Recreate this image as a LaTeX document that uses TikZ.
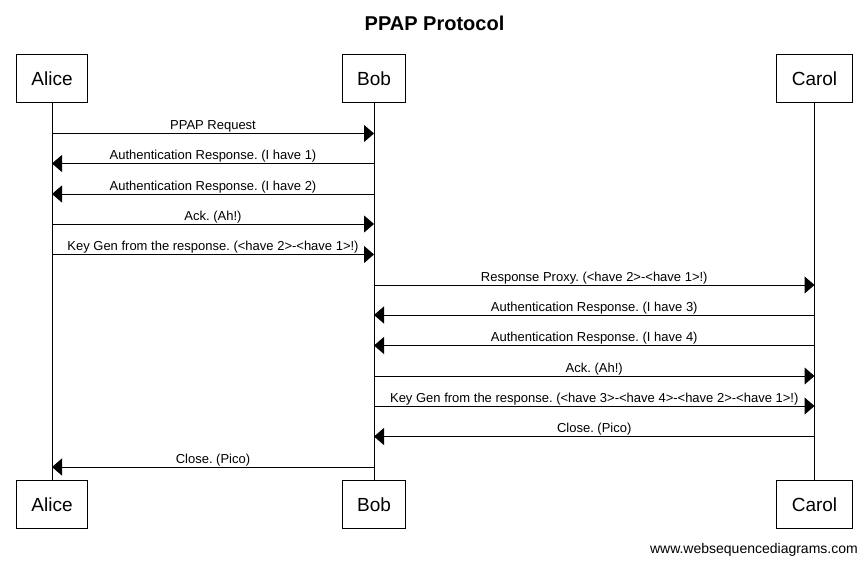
\documentclass[tikz,border=0pt]{standalone}
\usepackage{fontspec}
\setmainfont{Liberation Sans}
\usetikzlibrary{arrows.meta, positioning, calc}
\frenchspacing

\begin{document}
\begin{tikzpicture}[
    x=1pt, y=-1pt,
    >={Triangle[length=10pt, width=17pt]},
    actor/.style={rectangle, draw=black, line width=1pt, minimum height=48pt,
        inner xsep=15pt, font=\fontsize{19}{22}\selectfont},
    lifeline/.style={line width=1pt},
    msg/.style={->, line width=1pt},
    msglabel/.style={anchor=base, yshift=4pt, inner sep=0pt,
        font=\fontsize{13}{15}\selectfont},
]
\useasboundingbox (0,0) rectangle (867,563);

% === TITLE ===
\node[font=\fontsize{20}{24}\selectfont\bfseries] (title) at (434.5,23) {PPAP Protocol};

% === ACTORS (top and bottom) ===
\node[actor] (alice) at (52,78.5) {Alice};
\node[actor] (bob) at (374,78.5) {Bob};
\node[actor] (carol) at (814.5,78.5) {Carol};

\node[actor] (alice bot) at (52,504.5) {Alice};
\node[actor] (bob bot) at (374,504.5) {Bob};
\node[actor] (carol bot) at (814.5,504.5) {Carol};

% Lifelines
\draw[lifeline] (alice) -- (alice bot);
\draw[lifeline] (bob) -- (bob bot);
\draw[lifeline] (carol) -- (carol bot);

% === MESSAGES Alice <-> Bob ===
\draw[msg] (alice |- 0,133.5) -- (bob |- 0,133.5)
    node[msglabel, midway] {PPAP Request};
\draw[msg] (bob |- 0,163.5) -- (alice |- 0,163.5)
    node[msglabel, midway] {Authentication Response. (I have 1)};
\draw[msg] (bob |- 0,194) -- (alice |- 0,194)
    node[msglabel, midway] {Authentication Response. (I have 2)};
\draw[msg] (alice |- 0,224) -- (bob |- 0,224)
    node[msglabel, midway] {Ack. (Ah!)};
\draw[msg] (alice |- 0,254.5) -- (bob |- 0,254.5)
    node[msglabel, midway] {Key Gen from the response. (<have 2>-<have 1>!)};

% === MESSAGES Bob <-> Carol ===
\draw[msg] (bob |- 0,285) -- (carol |- 0,285)
    node[msglabel, midway] {Response Proxy. (<have 2>-<have 1>!)};
\draw[msg] (carol |- 0,315) -- (bob |- 0,315)
    node[msglabel, midway] {Authentication Response. (I have 3)};
\draw[msg] (carol |- 0,345.5) -- (bob |- 0,345.5)
    node[msglabel, midway] {Authentication Response. (I have 4)};
\draw[msg] (bob |- 0,376) -- (carol |- 0,376)
    node[msglabel, midway] {Ack. (Ah!)};
\draw[msg] (bob |- 0,406) -- (carol |- 0,406)
    node[msglabel, midway] {Key Gen from the response. (<have 3>-<have 4>-<have 2>-<have 1>!)};
\draw[msg] (carol |- 0,436.5) -- (bob |- 0,436.5)
    node[msglabel, midway] {Close. (Pico)};

% Closing back to Alice
\draw[msg] (bob |- 0,467) -- (alice |- 0,467)
    node[msglabel, midway] {Close. (Pico)};

% Footer
\node[anchor=base east, inner sep=0pt, font=\fontsize{14}{16}\selectfont] (footer)
    at (858,553) {www.websequencediagrams.com};

\end{tikzpicture}
\end{document}
